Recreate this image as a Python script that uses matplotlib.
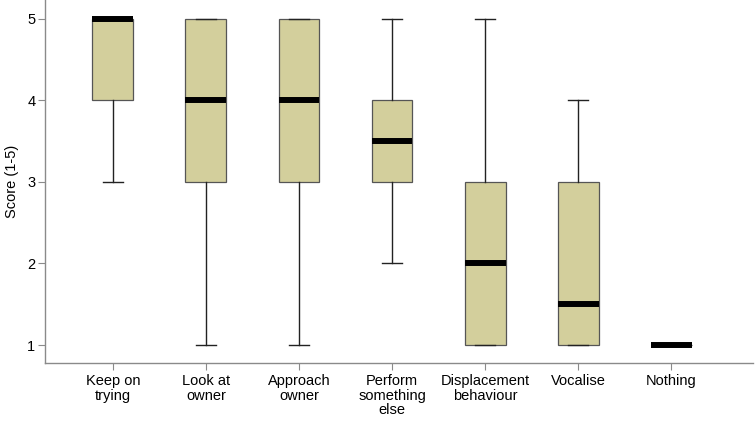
import matplotlib
matplotlib.use("Agg")
import matplotlib.pyplot as plt

# five-number summaries
categories = ["Keep on\ntrying", "Look at\nowner", "Approach\nowner", "Perform\nsomething\nelse",
              "Displacement\nbehaviour", "Vocalise", "Nothing"]
whis_lo = [3, 1, 1, 2, 1, 1, 1]
q1 = [4, 3, 3, 3, 1, 1, 1]
medians = [5, 4, 4, 3.5, 2, 1.5, 1]
q3 = [5, 5, 5, 4, 3, 3, 1]
whis_hi = [5, 5, 5, 5, 5, 4, 1]

BOX_COLOR = "#d3cf9c"
EDGE = "#555555"
AXIS_GRAY = "#8a8a8a"


def main():
    plt.rcParams['font.family'] = ['Liberation Sans', 'DejaVu Sans']
    fig = plt.figure(figsize=(7.56, 4.22), dpi=100)
    ax = fig.add_axes([45 / 756, 1 - 363 / 422, (753 - 45) / 756, 363 / 422])

    stats = []
    for i in range(len(categories)):
        stats.append({"whislo": whis_lo[i], "q1": q1[i], "med": medians[i],
                      "q3": q3[i], "whishi": whis_hi[i], "fliers": []})

    ax.bxp(stats, positions=range(len(categories)), widths=0.44, patch_artist=True,
           showfliers=False,
           boxprops=dict(facecolor=BOX_COLOR, edgecolor=EDGE, linewidth=0.9),
           medianprops=dict(color="black", linewidth=4.3, solid_capstyle="butt"),
           whiskerprops=dict(color="#222222", linewidth=1.0),
           capprops=dict(color="#222222", linewidth=1.0),
           capwidths=0.22)

    ax.set_xlim(-0.73, 6.88)
    ax.set_ylim(0.78, 5.23)
    ax.set_yticks([1, 2, 3, 4, 5])
    ax.set_xticks(range(len(categories)))
    ax.set_xticklabels(categories, fontsize=10.5, linespacing=1.05)
    ax.tick_params(axis="y", labelsize=10.5, length=5, color=AXIS_GRAY, pad=2)
    ax.tick_params(axis="x", length=5, color=AXIS_GRAY, pad=3)
    ax.set_ylabel("Score (1-5)", fontsize=10.5, labelpad=6)

    for side in ["top", "right"]:
        ax.spines[side].set_visible(False)
    for side in ["left", "bottom"]:
        ax.spines[side].set_color(AXIS_GRAY)
        ax.spines[side].set_linewidth(1.0)

    fig.savefig("out.png", dpi=100)


if __name__ == "__main__":
    main()
